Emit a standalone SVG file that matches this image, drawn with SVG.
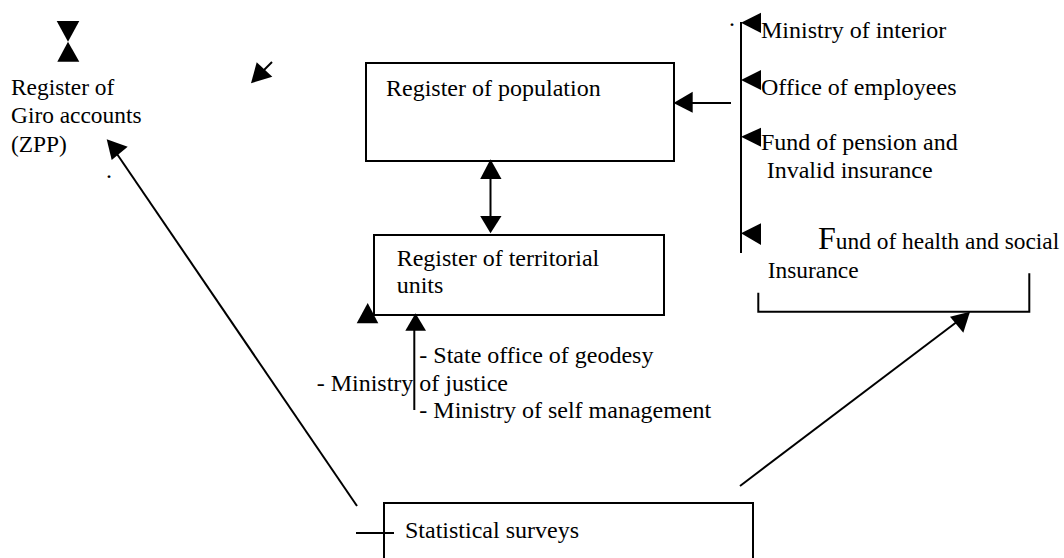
<svg xmlns="http://www.w3.org/2000/svg" width="1064" height="558" viewBox="0 0 1064 558" font-family="'Liberation Serif', 'Times New Roman', 'DejaVu Serif', serif">
<style>
text{font-family:'Liberation Serif','Times New Roman','DejaVu Serif',serif;font-size:24px;fill:#000}
text.s{font-size:23.4px}
.box{fill:#fff;stroke:#000;stroke-width:2}
.ln{fill:none;stroke:#000;stroke-width:2}
.hd{fill:#000;stroke:none}
</style>
<rect width="1064" height="558" fill="#fff"/>
<g id="giro">
<polygon class="hd" points="56.7,21 79.3,21 68,41.7"/>
<polygon class="hd" points="68,41.7 57.3,61.7 79.3,61.7"/>
<text class="s" x="11" y="95">Register of</text>
<text class="s" x="11" y="123.3">Giro accounts</text>
<text class="s" x="11" y="151.7">(ZPP)</text>
<text x="106" y="178">.</text>
</g>
<g id="population">
<rect class="box" x="366" y="63" width="308" height="98"/>
<text x="386" y="96">Register of population</text>
</g>
<g id="territorial">
<rect class="box" x="374" y="235" width="290" height="80"/>
<text x="396.7" y="265.7">Register of territorial</text>
<text x="396.7" y="293.3">units</text>
</g>
<g id="territorial-sources">
<text x="419.3" y="363.3">- State office of geodesy</text>
<text x="316.7" y="390.7">- Ministry of justice</text>
<text x="419.3" y="418.3">- Ministry of self management</text>
</g>
<g id="population-sources">
<text x="729" y="26">.</text>
<text x="761" y="38.3">Ministry of interior</text>
<text x="761" y="95">Office of employees</text>
<text x="761" y="150">Fund of pension and</text>
<text x="766.7" y="178.3">Invalid insurance</text>
<text class="s" x="818" y="249.3"><tspan font-size="32">F</tspan>und of health and social</text>
<text class="s" x="767.7" y="278.3">Insurance</text>
</g>
<g id="statistical">
<rect class="box" x="384" y="503" width="369" height="70"/>
<text x="405" y="538">Statistical surveys</text>
</g>
<g id="connectors">
<line class="ln" x1="272" y1="62" x2="261" y2="73"/>
<polygon class="hd" points="251,83.3 256.7,62.3 272.3,76.7"/>
<line class="ln" x1="741" y1="22" x2="741" y2="253"/>
<polygon class="hd" points="741,22.7 761,12.7 761,33"/>
<polygon class="hd" points="741,80 761,70 761,90"/>
<polygon class="hd" points="741,136.7 761,127.7 761,146.7"/>
<polygon class="hd" points="741,233.3 761,223.3 761,245"/>
<line class="ln" x1="731" y1="103" x2="690" y2="103"/>
<polygon class="hd" points="673.5,103 692.7,91.7 692.7,112.7"/>
<line class="ln" x1="490.5" y1="175" x2="490.5" y2="218"/>
<polygon class="hd" points="490.5,159.3 480.2,179 501.5,179"/>
<polygon class="hd" points="490.5,233.3 480.2,216 501.5,216"/>
<line class="ln" x1="414.3" y1="410" x2="414.3" y2="328"/>
<polygon class="hd" points="415.5,313.3 405.3,330.7 426,330.7"/>
<polygon class="hd" points="367.7,303 356.7,323.3 378.3,323.3"/>
<line class="ln" x1="357" y1="506" x2="117" y2="154"/>
<polygon class="hd" points="106.7,139.3 127.7,146.7 111.7,160"/>
<line class="ln" x1="356" y1="533" x2="394" y2="533"/>
<line class="ln" x1="740" y1="486" x2="958" y2="321"/>
<polygon class="hd" points="970,311.7 950,316.7 963.3,332.7"/>
<polyline class="ln" points="758.3,292.7 758.3,311.7 1029.3,311.7 1029.3,273.3"/>
</g>
</svg>
